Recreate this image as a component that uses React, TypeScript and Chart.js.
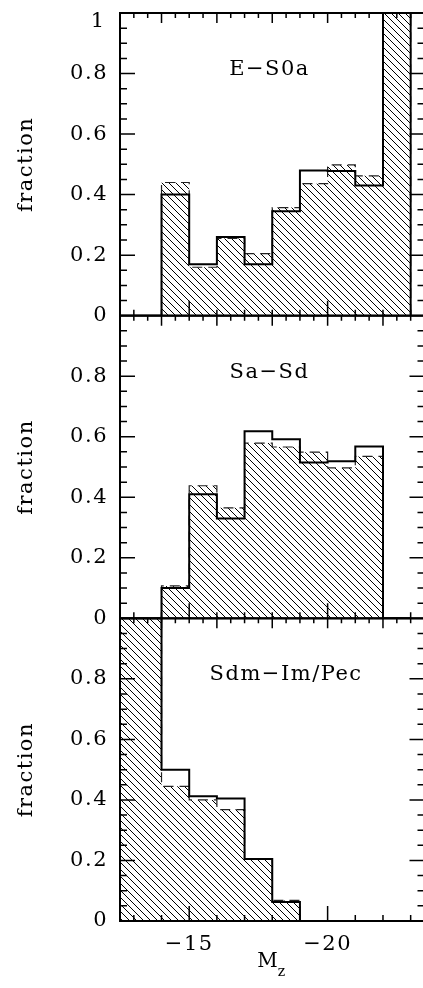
import React, { useEffect, useRef } from 'react';
import { Chart, registerables } from 'chart.js';

Chart.register(...registerables);

// Bin edges in M_z (each bin spans binEdges[i] .. binEdges[i+1])
const binEdges = [-12, -13, -14, -15, -16, -17, -18, -19, -20, -21, -22, -23];

// Fractions per bin: solid outline (all) and hatched (dashed outline)
const eS0aSolid = [0, 0, 0.40, 0.17, 0.26, 0.17, 0.345, 0.48, 0.478, 0.43, 1.0];
const eS0aHatch = [0, 0, 0.44, 0.16, 0.255, 0.205, 0.357, 0.436, 0.498, 0.462, 1.0];
const saSdSolid = [0, 0, 0.10, 0.41, 0.33, 0.618, 0.592, 0.515, 0.519, 0.568, 0];
const saSdHatch = [0, 0, 0.107, 0.438, 0.365, 0.579, 0.566, 0.549, 0.497, 0.535, 0];
const sdmSolid = [1, 1, 0.50, 0.412, 0.405, 0.205, 0.063, 0, 0, 0, 0];
const sdmHatch = [1, 1, 0.445, 0.40, 0.368, 0.205, 0.068, 0, 0, 0, 0];

const panelNames = ['E\u2212S0a', 'Sa\u2212Sd', 'Sdm\u2212Im/Pec'];
const panelLabelX = [-17.9, -17.9, -18.5];
const panelLabelY = 0.795;
const xTickLabels = [-15, -20];
const xMin = -23.5;
const xMax = -12.5;
const yAxisTitle = 'fraction';
const xAxisTitle = 'M';
const xAxisSub = 'z';
const topLabel = '1';

const FONT = '"DejaVu Serif"';

function steps(vals: number[]) {
  const pts: { x: number; y: number }[] = [{ x: binEdges[0], y: 0 }];
  vals.forEach((v, i) => pts.push({ x: binEdges[i], y: v }));
  const n = vals.length;
  pts.push({ x: binEdges[n], y: vals[n - 1] });
  pts.push({ x: binEdges[n], y: 0 });
  return pts;
}

function makeHatch(): CanvasPattern | string {
  const c = document.createElement('canvas');
  const s = 7;
  c.width = s;
  c.height = s;
  const g = c.getContext('2d');
  if (!g) return '#888';
  g.strokeStyle = '#000';
  g.lineWidth = 1;
  g.beginPath();
  g.moveTo(-1, -1);
  g.lineTo(s + 1, s + 1);
  g.moveTo(-1, s - 1);
  g.lineTo(1, s + 1);
  g.moveTo(s - 1, -1);
  g.lineTo(s + 1, 1);
  g.stroke();
  const p = g.createPattern(c, 'repeat');
  return p || '#888';
}

export default function App() {
  const ref = useRef<HTMLCanvasElement | null>(null);

  useEffect(() => {
    const canvas = ref.current;
    if (!canvas) return;
    const hatch = makeHatch();
    const axisIds = ['y1', 'y2', 'y3'];
    const solids = [eS0aSolid, saSdSolid, sdmSolid];
    const hatches = [eS0aHatch, saSdHatch, sdmHatch];

    const datasets: any[] = [];
    solids.forEach((vals, i) => {
      datasets.push({
        data: steps(vals),
        yAxisID: axisIds[i],
        borderColor: '#000',
        borderWidth: 2,
        stepped: true,
        pointRadius: 0,
        fill: false,
      });
    });
    hatches.forEach((vals, i) => {
      datasets.push({
        data: steps(vals),
        yAxisID: axisIds[i],
        borderColor: '#222',
        borderWidth: 1.2,
        borderDash: [10, 6],
        stepped: true,
        pointRadius: 0,
        fill: 'origin',
        backgroundColor: hatch,
      });
    });

    const yAxis = (id: string, w: number) => ({
      type: 'linear',
      position: 'left',
      stack: 'panels',
      stackWeight: 1,
      weight: w,
      min: 0,
      max: 1,
      grid: { display: false, drawTicks: false },
      border: { display: false },
      afterFit: (s: any) => {
        s.width = 120;
        s.paddingTop = 0;
        s.paddingBottom = 0;
      },
      ticks: {
        stepSize: 0.2,
        padding: 12,
        color: '#000',
        font: { family: FONT, size: 21 },
        callback: (v: number) => {
          if (Math.abs(v - 1) < 1e-6) return '';
          return String(Number(v.toFixed(1)));
        },
      },
    });

    const letterSpacing = {
      id: 'letterSpacing',
      beforeDraw(chart: any) {
        (chart.ctx as any).letterSpacing = '1.5px';
      },
    };

    const frame = {
      id: 'frame',
      afterDatasetsDraw(chart: any) {
        const ctx = chart.ctx;
        const xs = chart.scales.x;
        const L = xs.left;
        const R = xs.right;
        ctx.save();
        ctx.strokeStyle = '#000';
        ctx.setLineDash([]);
        for (const id of axisIds) {
          const ys = chart.scales[id];
          const T = ys.top;
          const B = ys.bottom;
          ctx.lineWidth = 1.5;
          ctx.beginPath();
          for (let k = 1; k < 20; k++) {
            const yy = ys.getPixelForValue(k * 0.05);
            const len = k % 4 === 0 ? 15 : 7;
            ctx.moveTo(L, yy);
            ctx.lineTo(L + len, yy);
            ctx.moveTo(R, yy);
            ctx.lineTo(R - len, yy);
          }
          for (let k = 1; k < 22; k++) {
            const v = xMax - k * 0.5;
            const xx = xs.getPixelForValue(v);
            const len = Math.abs(v % 2) < 1e-6 ? 10 : 5;
            ctx.moveTo(xx, T);
            ctx.lineTo(xx, T + len);
          }
          for (let v = -13; v >= -23; v -= 1) {
            const xx = xs.getPixelForValue(v);
            const len = Math.abs(v % 5) < 1e-6 ? 15 : 6;
            ctx.moveTo(xx, B);
            ctx.lineTo(xx, B - len);
          }
          ctx.stroke();
          ctx.lineWidth = 2;
          ctx.strokeRect(L, T, R - L, B - T);
        }
        ctx.restore();
      },
    };

    const texts = {
      id: 'texts',
      afterDraw(chart: any) {
        const ctx = chart.ctx;
        const xs = chart.scales.x;
        ctx.save();
        ctx.fillStyle = '#000';
        (ctx as any).letterSpacing = '1.5px';
        ctx.font = `21px ${FONT}`;
        axisIds.forEach((id, i) => {
          const ys = chart.scales[id];
          // y title
          ctx.save();
          ctx.translate(32, (ys.top + ys.bottom) / 2);
          ctx.rotate(-Math.PI / 2);
          ctx.textAlign = 'center';
          ctx.textBaseline = 'alphabetic';
          ctx.fillText(yAxisTitle, 0, 0);
          ctx.restore();
          // panel name
          ctx.textAlign = 'center';
          ctx.textBaseline = 'alphabetic';
          ctx.fillText(
            panelNames[i],
            xs.getPixelForValue(panelLabelX[i]),
            ys.getPixelForValue(panelLabelY)
          );
        });
        // top "1" label of the upper panel, kept inside the frame height
        const y1 = chart.scales.y1;
        (ctx as any).letterSpacing = '0px';
        ctx.textAlign = 'right';
        ctx.textBaseline = 'top';
        ctx.fillText(topLabel, y1.right - 16, y1.getPixelForValue(1) - 2);
        // x title M_z
        const cx = (xs.left + xs.right) / 2;
        ctx.font = `20px ${FONT}`;
        const mW = ctx.measureText(xAxisTitle).width;
        ctx.font = `14px ${FONT}`;
        const zW = ctx.measureText(xAxisSub).width;
        const start = cx - (mW + zW) / 2 - 1;
        ctx.textAlign = 'left';
        ctx.textBaseline = 'alphabetic';
        ctx.font = `20px ${FONT}`;
        ctx.fillText(xAxisTitle, start, 967);
        ctx.font = `14px ${FONT}`;
        ctx.fillText(xAxisSub, start + mW, 976);
        ctx.restore();
      },
    };

    const chart = new Chart(canvas, {
      type: 'line',
      data: { datasets },
      options: {
        animation: false,
        responsive: false,
        devicePixelRatio: 1,
        layout: { padding: { top: 13, left: 0, right: 1.5, bottom: 0 }, autoPadding: false },
        plugins: { legend: { display: false }, tooltip: { enabled: false }, title: { display: false } },
        scales: {
          x: {
            type: 'linear',
            min: xMin,
            max: xMax,
            reverse: true,
            grid: { display: false, drawTicks: false },
            border: { display: false },
            afterFit: (s: any) => {
              s.height = 67;
              s.paddingLeft = 0;
              s.paddingRight = 0;
            },
            afterBuildTicks: (s: any) => {
              s.ticks = xTickLabels.map((v) => ({ value: v }));
            },
            ticks: {
              padding: 11,
              color: '#000',
              autoSkip: false,
              maxRotation: 0,
              font: { family: FONT, size: 21 },
              callback: (v: number) => (v < 0 ? '\u2212' + Math.abs(v) : String(v)),
            },
          },
          y1: yAxis('y1', 3),
          y2: yAxis('y2', 2),
          y3: yAxis('y3', 1),
        } as any,
      },
      plugins: [letterSpacing, frame, texts],
    } as any);

    return () => chart.destroy();
  }, []);

  return (
    <div style={{ position: 'absolute', left: 0, top: 0, width: 423, height: 988, overflow: 'hidden' }}>
      <canvas ref={ref} width={426} height={988} style={{ display: 'block', width: 426, height: 988 }} />
    </div>
  );
}
